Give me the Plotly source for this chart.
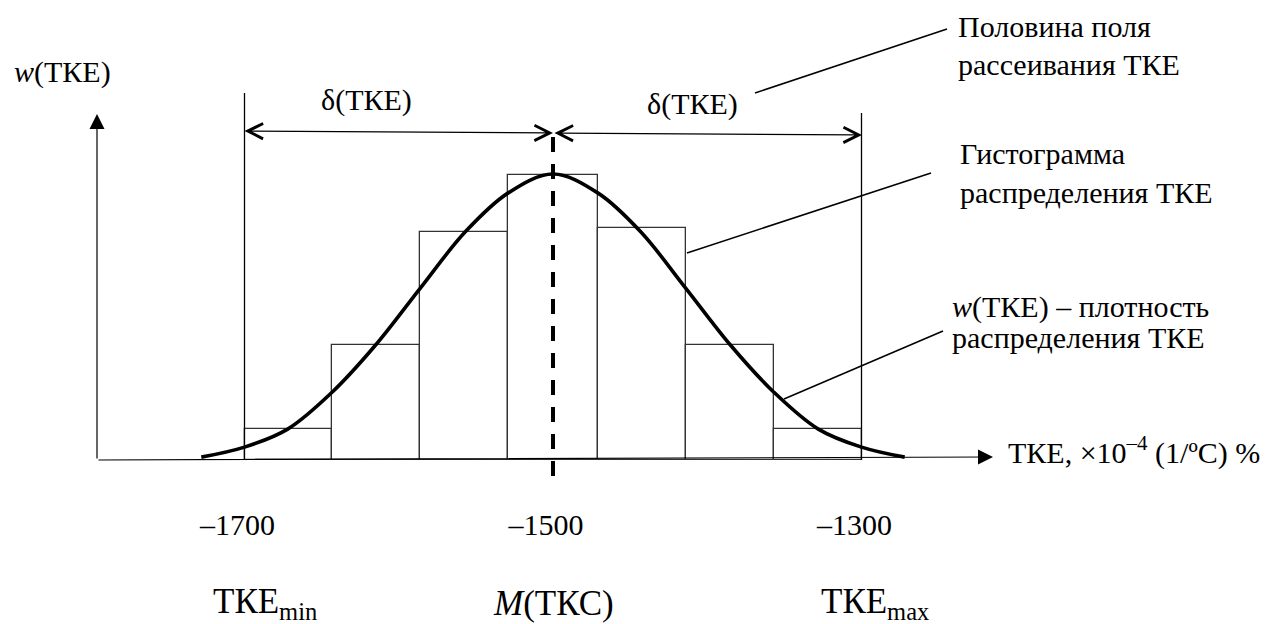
import plotly.graph_objects as go

# ---------------- data ----------------
BIN_EDGES = [-1700, -1643, -1586, -1529, -1471, -1414, -1357, -1300]
REL_FREQ = [0.108, 0.402, 0.797, 0.997, 0.811, 0.402, 0.108]

CURVE_X = [-1728, -1700, -1672, -1643, -1615, -1586, -1557, -1529, -1500,
           -1471, -1443, -1414, -1385, -1357, -1328, -1300, -1272]
CURVE_W = [0.010, 0.045, 0.108, 0.238, 0.402, 0.601, 0.797, 0.934, 1.000,
           0.934, 0.797, 0.601, 0.402, 0.238, 0.108, 0.045, 0.010]

TKE_MIN, TKE_MEAN, TKE_MAX = -1700, -1500, -1300
TICK_VALUES = [-1700, -1500, -1300]
TICK_LABELS = ["–1700", "–1500", "–1300"]
SUB_LABELS = ["ТКЕ<sub>min</sub>", "<i>M</i>(ТКС)", "ТКЕ<sub>max</sub>"]

# ---------------- layout helpers ----------------
W, H = 1274, 624
FONT = "'Liberation Serif', 'DejaVu Serif', serif"
X_CENTER_PX, PX_PER_UNIT = 553, 1.5425
BASE_PX, PX_PER_W = 460, 286
x_range = [TKE_MEAN - X_CENTER_PX / PX_PER_UNIT, TKE_MEAN + (W - X_CENTER_PX) / PX_PER_UNIT]
y_range = [-(H - BASE_PX) / PX_PER_W, BASE_PX / PX_PER_W]


def px(x):
    return x / W


def py(y):
    return 1 - y / H


centers = [(a + b) / 2 for a, b in zip(BIN_EDGES[:-1], BIN_EDGES[1:])]
widths = [b - a for a, b in zip(BIN_EDGES[:-1], BIN_EDGES[1:])]

fig = go.Figure()
fig.add_trace(go.Bar(
    x=centers, y=REL_FREQ, width=widths,
    marker=dict(color="rgba(0,0,0,0)", line=dict(color="#333333", width=1.3)),
    hoverinfo="skip", showlegend=False,
))
fig.add_trace(go.Scatter(
    x=CURVE_X, y=CURVE_W, mode="lines",
    line=dict(color="black", width=3.6, shape="spline", smoothing=1.0),
    hoverinfo="skip", showlegend=False,
))

shapes = []
# boundary lines at TKE_min / TKE_max
shapes.append(dict(type="line", xref="x", yref="paper", x0=TKE_MIN, x1=TKE_MIN,
                   y0=py(460), y1=py(93), line=dict(color="black", width=1.3)))
shapes.append(dict(type="line", xref="x", yref="paper", x0=TKE_MAX, x1=TKE_MAX,
                   y0=py(460), y1=py(113), line=dict(color="black", width=1.3)))
# mean dashed line
shapes.append(dict(type="line", xref="x", yref="paper", x0=TKE_MEAN, x1=TKE_MEAN,
                   y0=py(476), y1=py(134), layer="above",
                   line=dict(color="black", width=4, dash="15px,12px")))
# leader lines
for (x0, y0, x1, y1) in [(755, 93, 947, 29), (687, 253, 931, 173), (784, 399, 943, 331)]:
    shapes.append(dict(type="line", xref="paper", yref="paper",
                       x0=px(x0), y0=py(y0), x1=px(x1), y1=py(y1),
                       line=dict(color="black", width=1.6)))

annotations = []


def arrow(head, tail, **kw):
    d = dict(x=px(head[0]), y=py(head[1]), xref="paper", yref="paper",
             ax=tail[0] - head[0], ay=tail[1] - head[1], text="",
             showarrow=True, arrowcolor="black", arrowwidth=1.2, arrowsize=2.5)
    d.update(kw)
    annotations.append(d)


# axes arrows
arrow((97, 114), (97, 460), arrowhead=2)
arrow((993, 457), (97, 460), arrowhead=2)
# dimension arrows δ(ТКЕ)
arrow((553, 133), (243, 131), arrowhead=5, arrowside="end+start",
      startarrowhead=5, startarrowsize=2.5)
arrow((862, 135), (553, 133), arrowhead=5, arrowside="end+start",
      startarrowhead=5, startarrowsize=2.5)


def text(t, x, y, size=30, xanchor="center"):
    annotations.append(dict(x=px(x), y=py(y), xref="paper", yref="paper", text=t,
                            showarrow=False, xanchor=xanchor, yanchor="middle",
                            font=dict(family=FONT, size=size, color="black")))


text("<i>w</i>(ТКЕ)", 62, 72)
text("δ(ТКЕ)", 366, 100)
text("δ(ТКЕ)", 693, 104)
text("Половина поля", 956, 27, xanchor="left")
text("рассеивания ТКЕ", 956, 65, xanchor="left")
text("Гистограмма", 958, 153, xanchor="left")
text("распределения ТКЕ", 958, 192, xanchor="left")
text("<i>w</i>(ТКЕ) – плотность", 950, 307, xanchor="left")
text("распределения ТКЕ", 950, 337, xanchor="left")
text("ТКЕ, ×10<sup>–4</sup> (1/ºС) %", 1006, 450, xanchor="left")

SUB_SHIFTS = [20, 0, 13]
for v, lab, sh in zip(TICK_VALUES, SUB_LABELS, SUB_SHIFTS):
    annotations.append(dict(x=v, y=py(603), xref="x", yref="paper", text=lab,
                            showarrow=False, xanchor="center", yanchor="middle",
                            xshift=sh, font=dict(family=FONT, size=35, color="black")))

fig.update_layout(
    width=W, height=H,
    margin=dict(l=0, r=0, t=0, b=0),
    paper_bgcolor="white", plot_bgcolor="white",
    showlegend=False, bargap=0,
    shapes=shapes, annotations=annotations,
    xaxis=dict(range=x_range, showgrid=False, zeroline=False, showline=False,
               tickmode="array", tickvals=TICK_VALUES, ticktext=TICK_LABELS,
               ticks="", anchor="free", position=py(460),
               ticklabelstandoff=44, ticklabelshift=-7,
               tickfont=dict(family=FONT, size=30, color="black"), fixedrange=True),
    yaxis=dict(range=y_range, visible=False, fixedrange=True),
)

fig.write_html("out.html", config={"displayModeBar": False},
               post_script="document.body.style.margin='0';")
